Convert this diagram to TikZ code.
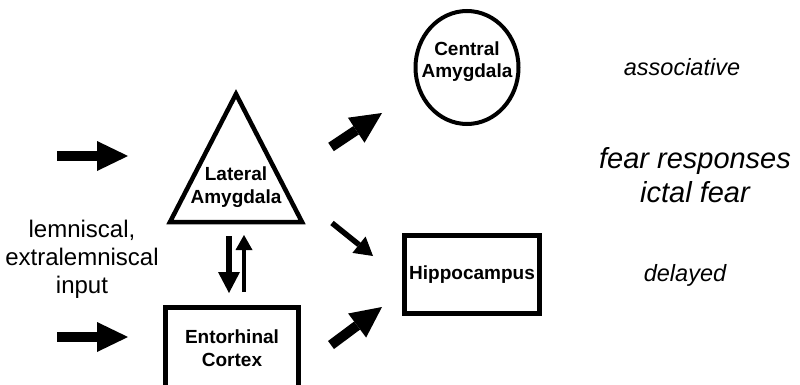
\documentclass[tikz,border=0pt]{standalone}
\usepackage{fontspec}
\setmainfont{Liberation Sans}
\usetikzlibrary{arrows.meta,shapes.geometric}
\begin{document}
\begin{tikzpicture}[x=1pt,y=-1pt,
  lbl/.style={font=\fontsize{19}{23}\selectfont\bfseries, align=center, inner sep=0pt},
  note/.style={font=\fontsize{23.5}{28}\selectfont\itshape, align=center, inner sep=0pt},
  bignote/.style={font=\fontsize{29}{34}\selectfont\itshape, align=center, inner sep=0pt},
  plaintext/.style={font=\fontsize{24}{28}\selectfont, align=center, inner sep=0pt},
  boxnode/.style={draw, line width=4.5pt, rectangle, inner sep=0pt, align=center,
    font=\fontsize{19}{23}\selectfont\bfseries},
  fatarrow/.style={line width=10pt, -{Triangle[length=31pt,width=30pt,line width=0pt]}},
  midarrow/.style={line width=5.5pt, -{Triangle[length=18pt,width=21pt,line width=0pt]}},
  downarrow/.style={line width=6pt, -{Triangle[length=21pt,width=22pt,line width=0pt]}},
  uparrow/.style={line width=3.5pt, -{Triangle[length=15pt,width=17pt,line width=0pt]}}
]
\clip (0,0) rectangle (800,385);
\fill[white] (0,0) rectangle (800,385);

% Lateral amygdala (triangle)
\coordinate (tA) at (236,94);
\coordinate (tL) at (170,222);
\coordinate (tR) at (302,222);
\draw[line width=4.5pt, line join=miter] (tA) -- (tR) -- (tL) -- cycle;
\node[lbl] (la) at (236,187) {Lateral\\Amygdala};

% Central amygdala
\node[draw, ellipse, line width=4pt, minimum width=103pt, minimum height=113pt,
  inner sep=0pt] (ca) at (467,67.5) {};
\node[lbl, font=\fontsize{19}{22}\selectfont\bfseries] (cat) at (467,61.5) {Central\\Amygdala};

% Hippocampus
\node[boxnode, minimum width=135pt, minimum height=78pt] (hc) at (472,274.5) {Hippocampus};

% Entorhinal cortex
\node[boxnode, minimum width=133pt, minimum height=80pt] (ec) at (232,347.5) {};
\node[lbl] (ect) at (232,348) {Entorhinal\\Cortex};

% input text
\node[plaintext] (inp) at (82,259) {lemniscal,\\extralemniscal\\input};

% right-hand notes
\node[note] (assoc) at (682,67) {associative};
\node[bignote] (fear) at (695,175.5) {fear responses\\ictal fear};
\node[note] (del) at (685,275) {delayed};

% input arrows
\coordinate (i1s) at (57,156);
\coordinate (i1e) at (128,156);
\coordinate (i2s) at (57,337);
\coordinate (i2e) at (128,337);
\draw[fatarrow] (i1s) -- (i1e);
\draw[fatarrow] (i2s) -- (i2e);

% LA <-> EC arrows
\coordinate (d1) at (229,236);
\coordinate (d2) at (229,293);
\coordinate (u1) at (244,292);
\coordinate (u2) at (244,235);
\draw[downarrow] (d1) -- (d2);
\draw[uparrow] (u1) -- (u2);

% output arrows
\coordinate (o1s) at (331,147);
\coordinate (o1e) at (382,113);
\coordinate (o2s) at (332,223);
\coordinate (o2e) at (373,256);
\coordinate (o3s) at (331,345);
\coordinate (o3e) at (382,307);
\draw[fatarrow] (o1s) -- (o1e);
\draw[midarrow] (o2s) -- (o2e);
\draw[fatarrow] (o3s) -- (o3e);
\end{tikzpicture}
\end{document}
